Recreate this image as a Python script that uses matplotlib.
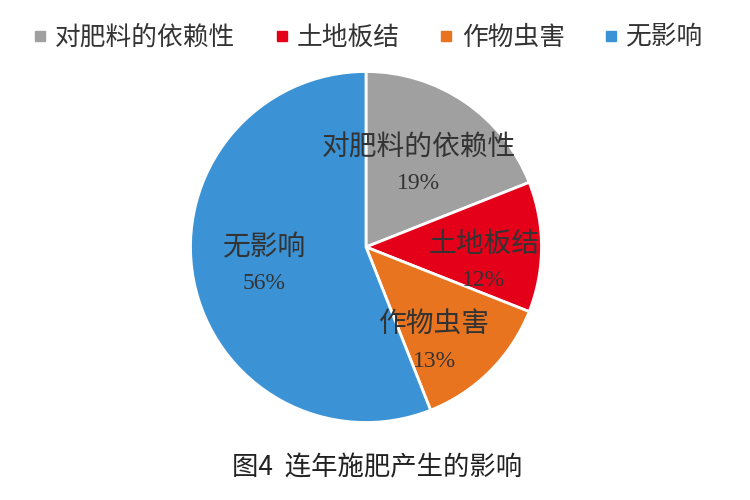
import matplotlib
matplotlib.use("Agg")
import matplotlib.pyplot as plt
from matplotlib.lines import Line2D

plt.rcParams["font.family"] = ["Noto Sans CJK SC", "DejaVu Sans"]

# data
categories = ["对肥料的依赖性", "土地板结", "作物虫害", "无影响"]
shares = [19, 12, 13, 56]
pct_labels = ["19%", "12%", "13%", "56%"]
colors = ["#a0a0a0", "#e5001a", "#e8741f", "#3b93d6"]
caption = "图4  连年施肥产生的影响"

# label centres in pie-radius units (name above, percent below)
label_pos = [(0.30, 0.47), (0.67, -0.08), (0.39, -0.54), (-0.58, -0.10)]

fig = plt.figure(figsize=(7.5, 5), dpi=100)
fig.patch.set_facecolor("white")

cx, cy, r = 366, 247, 179
ax = fig.add_axes([(cx - r) / 750, (500 - cy - r) / 500, 2 * r / 750, 2 * r / 500])
ax.pie(shares, colors=colors, startangle=90, counterclock=False, radius=1,
       wedgeprops=dict(edgecolor="white", linewidth=2))
ax.set_xlim(-1.02, 1.02)
ax.set_ylim(-1.02, 1.02)
ax.set_aspect("equal")
ax.axis("off")

for name, pct, (x, y) in zip(categories, pct_labels, label_pos):
    ax.text(x, y + 0.1, name, ha="center", va="center", fontsize=20, color="#333333")
    ax.text(x, y - 0.11, pct, ha="center", va="center", fontsize=17, color="#333333",
            family=["Liberation Serif", "Noto Sans CJK SC"])

handles = [Line2D([], [], marker="s", linestyle="none", markersize=7, color=c)
           for c in colors]
fig.legend(handles, categories, loc="center", bbox_to_anchor=(0.487, 0.925), ncol=4,
           frameon=False, fontsize=18.5, handletextpad=0.1, columnspacing=1.3,
           handlelength=1.0, labelcolor="#333333")

fig.text(0.503, 0.064, caption, ha="center", va="center", fontsize=19, color="#222222")

fig.savefig("out.png", dpi=100)
